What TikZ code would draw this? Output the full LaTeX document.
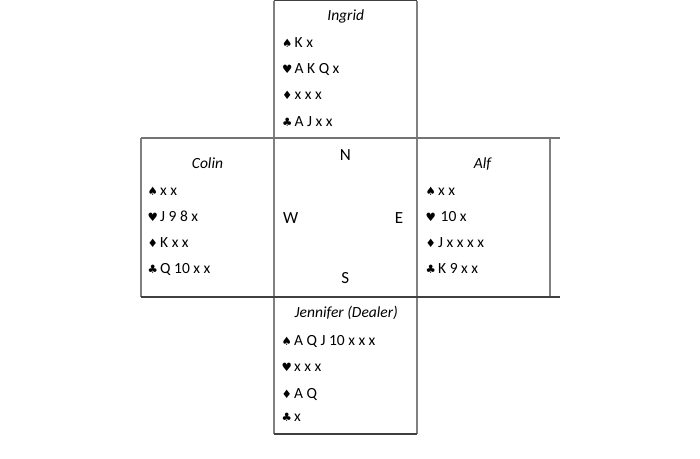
\documentclass[tikz,border=0pt]{standalone}
\usepackage{fontspec}
\setmainfont{Carlito}
\newfontfamily\suitfont{DejaVu Sans}
\newcommand{\st}[1]{{\suitfont\fontsize{11.5}{12}\selectfont #1}\hspace{2.2pt}}
\begin{document}
\begin{tikzpicture}[x=1pt,y=-1pt,
  vline/.style={draw=black!50,line width=1.3pt},
  hline/.style={draw=black!75,line width=1.3pt},
  hlinegrey/.style={draw=black!55,line width=1.3pt},
  handline/.style={anchor=base west,inner sep=0pt,text=black,font=\fontsize{15.5}{17}\selectfont},
  title/.style={anchor=base,inner sep=0pt,text=black,font=\fontsize{15.5}{17}\selectfont\itshape},
  compass/.style={anchor=base,inner sep=0pt,text=black,font=\fontsize{17}{19}\selectfont}]
\useasboundingbox (0,0) rectangle (700,458);
% frame lines
\draw[vline] (274,0.7) -- (274,434);
\draw[vline] (417,0.7) -- (417,434);
\draw[vline] (141,138) -- (141,297);
\draw[vline] (550,138) -- (550,297);
\draw[hline] (274,0.7) -- (417,0.7);
\draw[hlinegrey] (141,138) -- (560,138);
\draw[hline] (141,297) -- (560,297);
\draw[hline] (274,434) -- (417,434);
% North
\node[title] (ingrid) at (345.7,20) {Ingrid};
\node[handline] (i1) at (282,47) {\st{♠}K x};
\node[handline] (i2) at (282,73.5) {\st{♥}A K Q x};
\node[handline] (i3) at (282,99.5) {\st{♦}x x x};
\node[handline] (i4) at (282,126) {\st{♣}A J x x};
% West
\node[title] (colin) at (207.5,168.3) {Colin};
\node[handline] (c1) at (147.5,195) {\st{♠}x x};
\node[handline] (c2) at (147.5,221.7) {\st{♥}J 9 8 x};
\node[handline] (c3) at (147.5,247.7) {\st{♦}K x x};
\node[handline] (c4) at (147.5,273.7) {\st{♣}Q 10 x x};
% compass
\node[compass] (n) at (345.3,160.7) {N};
\node[compass] (w) at (290.8,223.3) {W};
\node[compass] (e) at (399,223.3) {E};
\node[compass] (s) at (345.3,283.3) {S};
% East
\node[title] (alf) at (482.5,168.3) {Alf};
\node[handline] (a1) at (425.5,195) {\st{♠}x x};
\node[handline] (a2) at (425.5,221.7) {\st{♥}\hspace{2.5pt}10 x};
\node[handline] (a3) at (425.5,247.7) {\st{♦}J x x x x};
\node[handline] (a4) at (425.5,273.7) {\st{♣}K 9 x x};
% South
\node[title] (jennifer) at (346.3,317.5) {Jennifer (Dealer)};
\node[handline] (j1) at (281.5,345) {\st{♠}A Q J 10 x x x};
\node[handline] (j2) at (281.5,371) {\st{♥}x x x};
\node[handline] (j3) at (281.5,398.3) {\st{♦}A Q};
\node[handline] (j4) at (281.5,421.7) {\st{♣}x};
\end{tikzpicture}
\end{document}
